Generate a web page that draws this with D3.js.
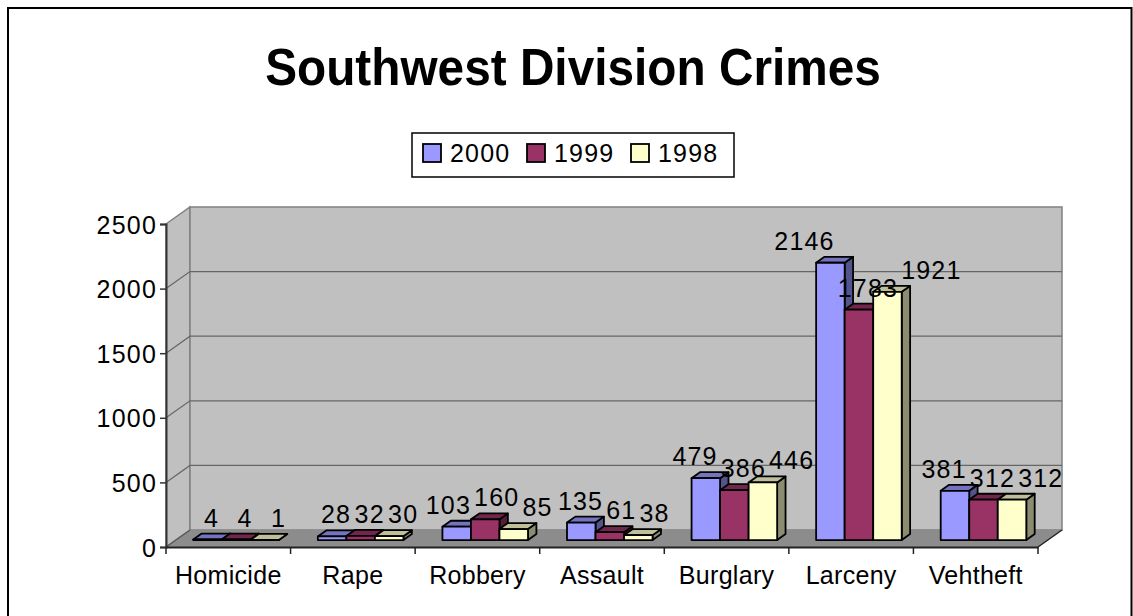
<!DOCTYPE html>
<html>
<head>
<meta charset="utf-8">
<script src="https://cdn.jsdelivr.net/npm/d3@7"></script>
<style>
  html, body { margin: 0; padding: 0; background: #fff; }
  svg { display: block; font-family: "Liberation Sans", Arial, sans-serif; }
</style>
</head>
<body>
<svg id="chart" width="1133" height="616"></svg>
<script>
// Southwest Division crime counts by year
const categories = ["Homicide", "Rape", "Robbery", "Assault", "Burglary", "Larceny", "Vehtheft"];
const seriesNames = ["2000", "1999", "1998"];
const values2000 = [4, 28, 103, 135, 479, 2146, 381];
const values1999 = [4, 32, 160, 61, 386, 1783, 312];
const values1998 = [1, 30, 85, 38, 446, 1921, 312];
const yTicks = [0, 500, 1000, 1500, 2000, 2500];
const seriesColors = ["#9999FF", "#993366", "#FFFFCC"];

const series = [values2000, values1999, values1998];

const svg = d3.select("#chart");

// Outer chart border
svg.append("path")
  .attr("d", "M8,620 V8 H1131.5 V620")
  .attr("fill", "none").attr("stroke", "#000").attr("stroke-width", 2);

// Title
svg.append("text")
  .attr("transform", "translate(573,85) scale(0.975,1.04)")
  .attr("text-anchor", "middle")
  .attr("font-weight", "bold").attr("font-size", 49)
  .text("Southwest Division Crimes");

// 3D frame geometry: front plane and depth shift to back wall
const x0 = 166, x1 = 1038;
const yBase = 547, yTop = 224;
const depthX = 24, depthY = -17;

const x = d3.scaleBand().domain(categories).range([x0, x1]);
const y = d3.scaleLinear().domain([0, 2500]).range([yBase, yTop]);

// project (screen x on front plane, value, depth 0..1)
const P = (px, v, z) => [px + depthX * z, y(v) + depthY * z];
const poly = pts => "M" + pts.map(p => p.join(",")).join("L") + "Z";

const walls = svg.append("g");
// left side wall
walls.append("path")
  .attr("d", poly([P(x0, 2500, 0), P(x0, 2500, 1), P(x0, 0, 1), P(x0, 0, 0)]))
  .attr("fill", "#C0C0C0").attr("stroke", "#808080").attr("stroke-width", 1.5);
// back wall
walls.append("path")
  .attr("d", poly([P(x0, 2500, 1), P(x1, 2500, 1), P(x1, 0, 1), P(x0, 0, 1)]))
  .attr("fill", "#C0C0C0").attr("stroke", "#808080").attr("stroke-width", 1.5);
// floor
walls.append("path")
  .attr("d", poly([P(x0, 0, 0), P(x0, 0, 1), P(x1, 0, 1), P(x1, 0, 0)]))
  .attr("fill", "#8C8C8C").attr("stroke", "none");

// gridlines on side and back walls
yTicks.filter(t => t > 0 && t < 2500).forEach(t => {
  const a = P(x0, t, 0), b = P(x0, t, 1), c = P(x1, t, 1);
  walls.append("path")
    .attr("d", `M${a}L${b}L${c}`)
    .attr("fill", "none").attr("stroke", "#666").attr("stroke-width", 1.2);
});
// floor edges
walls.append("path")
  .attr("d", `M${P(x0,0,0)}L${P(x0,0,1)}`)
  .attr("stroke", "#555").attr("stroke-width", 1.2);
walls.append("path")
  .attr("d", `M${P(x1,0,0)}L${P(x1,0,1)}`)
  .attr("stroke", "#222").attr("stroke-width", 1.5);

// value axis on the front-left edge
const yAxis = d3.axisLeft(y).tickValues(yTicks).tickFormat(d3.format("d")).tickSize(6).tickPadding(3);
const ya = svg.append("g").attr("transform", `translate(${x0},0)`).call(yAxis);
ya.select(".domain").attr("stroke", "#333").attr("stroke-width", 2);
ya.selectAll(".tick line").attr("stroke", "#333").attr("stroke-width", 1.5);
ya.selectAll(".tick text")
  .attr("font-size", 25).attr("fill", "#000")
  .attr("font-family", "Liberation Sans, Arial, sans-serif")
  .attr("dy", "0.36em").attr("letter-spacing", 1.2);

// category axis along the front edge of the floor
const xAxis = d3.axisBottom(x).tickSize(0).tickPadding(19);
const xa = svg.append("g").attr("transform", `translate(0,${yBase})`).call(xAxis);
xa.select(".domain").attr("stroke", "#222").attr("stroke-width", 2);
xa.selectAll(".tick text")
  .attr("font-size", 25).attr("fill", "#000")
  .attr("font-family", "Liberation Sans, Arial, sans-serif")
  .attr("letter-spacing", 0.3);
// boundary ticks between categories
xa.selectAll("line.bound")
  .data(d3.range(categories.length + 1))
  .join("line").attr("class", "bound")
  .attr("x1", i => x0 + i * x.bandwidth()).attr("x2", i => x0 + i * x.bandwidth())
  .attr("y1", 0).attr("y2", 7)
  .attr("stroke", "#222").attr("stroke-width", 1.5);

// bars: clustered 3D columns
const zFront = 0.41, zBack = 0.76;
const groupPad = x.bandwidth() * 0.14;
const barW = x.bandwidth() * 0.229;
const shade = (c, k) => { const h = d3.rgb(c); return d3.rgb(h.r * k, h.g * k, h.b * k).formatHex(); };

const bars = [];
categories.forEach((cat, ci) => {
  series.forEach((vals, si) => {
    const bx = x(cat) + groupPad + si * barW;
    bars.push({ cat, ci, si, v: vals[ci], bx });
  });
});

const barG = svg.append("g");
bars.forEach(b => {
  const g = barG.append("g");
  const c = seriesColors[b.si];
  const fl = P(b.bx, 0, zFront), fr = P(b.bx + barW, 0, zFront);
  const tl = P(b.bx, b.v, zFront), tr = P(b.bx + barW, b.v, zFront);
  const btl = P(b.bx, b.v, zBack), btr = P(b.bx + barW, b.v, zBack);
  const bbr = P(b.bx + barW, 0, zBack);
  // right side face
  g.append("path").attr("d", poly([fr, tr, btr, bbr]))
    .attr("fill", shade(c, 0.55)).attr("stroke", "#000").attr("stroke-width", 1.8).attr("stroke-linejoin", "round");
  // top face
  g.append("path").attr("d", poly([tl, btl, btr, tr]))
    .attr("fill", shade(c, 0.75)).attr("stroke", "#000").attr("stroke-width", 1.8).attr("stroke-linejoin", "round");
  // front face
  g.append("path").attr("d", poly([fl, tl, tr, fr]))
    .attr("fill", c).attr("stroke", "#000").attr("stroke-width", 1.8).attr("stroke-linejoin", "round");
});

// data labels above each column, spread apart where they would collide
const labelG = svg.append("g");
categories.forEach((cat, ci) => {
  const items = bars.filter(b => b.ci === ci).map(b => {
    const top = P(b.bx, b.v, zFront);
    const t = labelG.append("text")
      .attr("font-size", 25).attr("letter-spacing", 1.2)
      .attr("text-anchor", "middle")
      .attr("y", top[1] - 13)
      .text(b.v);
    const w = t.node().getComputedTextLength();
    return { t, w, cx: top[0] + barW / 2 + 4 + 5 * b.si };
  });
  for (let it = 0; it < 60; it++) {
    for (let j = 1; j < items.length; j++) {
      const a = items[j - 1], b = items[j];
      const ov = (a.cx + a.w / 2 + 3) - (b.cx - b.w / 2);
      if (ov > 0) { a.cx -= ov / 2; b.cx += ov / 2; }
    }
  }
  items.forEach(d => d.t.attr("x", d.cx));
});

// legend
const lg = svg.append("g");
lg.append("rect").attr("x", 412).attr("y", 133).attr("width", 322).attr("height", 44)
  .attr("fill", "#fff").attr("stroke", "#000").attr("stroke-width", 1.5);
const legendX = [423, 527, 631];
seriesNames.forEach((name, i) => {
  lg.append("rect").attr("x", legendX[i]).attr("y", 144).attr("width", 18).attr("height", 18)
    .attr("fill", seriesColors[i]).attr("stroke", "#000").attr("stroke-width", 1.8);
  lg.append("text").attr("x", legendX[i] + 27).attr("y", 162)
    .attr("font-size", 25).attr("letter-spacing", 1.2).text(name);
});
</script>
</body>
</html>
